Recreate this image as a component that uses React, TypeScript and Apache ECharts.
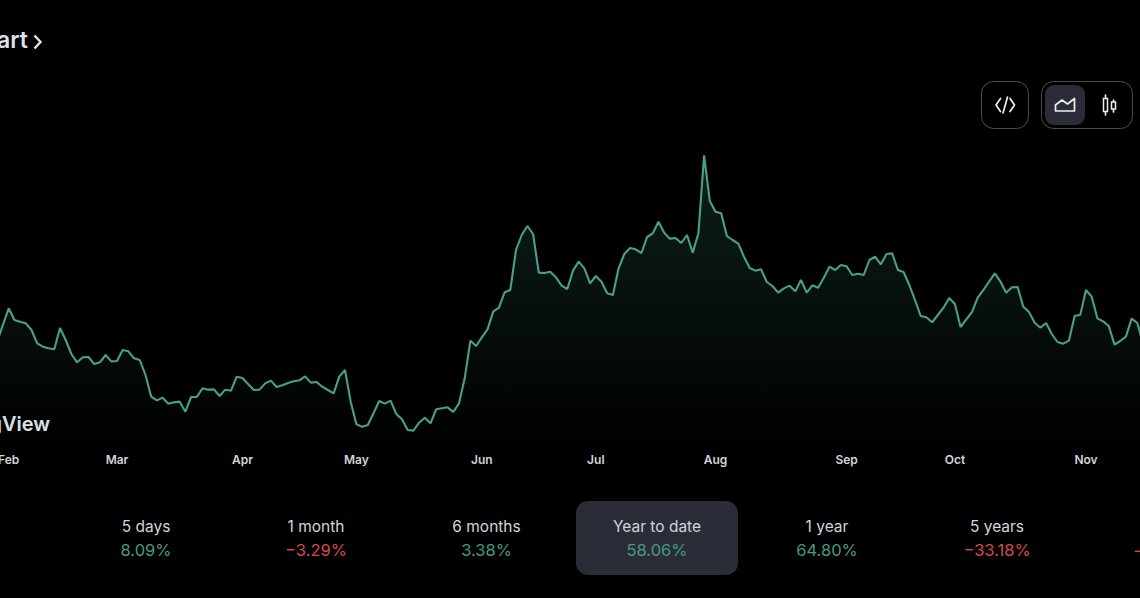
import React, { useEffect, useRef } from "react";
import * as echarts from "echarts";

const febToMay = [397,446,495,460,455,450,430,390,380,375,372,436,400,358,333,348,349,328,333,355,336,337,370,366,345,340,295,230,219,227,209,213,215,185,229,229,255,251,252,232,251,248,290,286,268,250,251,270,278,259,264,271,276,279,291,272,274,260,250,240,290,310,215,147,140,145,180,217];
const mayToAug = [209,218,178,162,130,128,152,167,150,192,195,198,184,210,285,398,382,408,432,485,497,543,550,670,715,742,718,602,601,605,588,563,553,608,635,615,570,592,575,540,535,615,658,676,672,661,709,720,755,722,704,706,691,715,662,720,954,817,785,780,712,700,689,650,616,608];
const augToNov = [612,574,562,542,555,563,546,580,542,564,557,587,620,610,625,621,595,599,595,640,650,627,658,660,610,604,565,520,472,468,453,475,497,526,508,439,462,484,527,550,575,600,575,542,558,559,500,484,452,437,451,418,394,389,398,472,476,550,530,465,456,442,386,397,410,464,451,390];
const values = [...febToMay, ...mayToAug, ...augToNov];

const monthTicks: Record<number, string> = { 2: "Feb", 21: "Mar", 43: "Apr", 63: "May", 85: "Jun", 105: "Jul", 126: "Aug", 149: "Sep", 168: "Oct", 191: "Nov" };
const categories = values.map((_, i) => monthTicks[i] ?? "");

const periodLabels = ["5 days", "1 month", "6 months", "Year to date", "1 year", "5 years"];
const periodValues = ["8.09%", "\u22123.29%", "3.38%", "58.06%", "64.80%", "\u221233.18%"];
const periodCenters = [146, 316, 486.5, 657, 827, 997];

const GREEN = "#459a84";
const RED = "#d5494f";
const FONT = "Inter, 'Noto Sans', sans-serif";

export default function App() {
  const ref = useRef<HTMLDivElement>(null);
  useEffect(() => {
    document.body.style.margin = "0";
    document.body.style.background = "#000";
    const chart = echarts.init(ref.current!, undefined, { renderer: "svg" });
    const iconLine = { stroke: "#eceef3", lineWidth: 1.7, fill: "none", lineJoin: "round" as const, lineCap: "round" as const };
    const graphic: any[] = [
      { type: "text", x: 28, y: 40, style: { text: "Full chart", align: "right", verticalAlign: "middle", fill: "#dfe1e8", font: `600 23px ${FONT}` } },
      { type: "polyline", shape: { points: [[34.5, 35.5], [40.5, 42], [34.5, 48.5]] }, style: { stroke: "#e3e5eb", lineWidth: 2.4, fill: "none" } },
      { type: "text", x: 50, y: 424, style: { text: "TradingView", align: "right", verticalAlign: "middle", fill: "#dfe1e8", font: `600 20px ${FONT}` } },

      { type: "rect", shape: { x: 981.5, y: 81.5, width: 47, height: 47, r: 12 }, style: { fill: "none", stroke: "#4a4c55", lineWidth: 1 } },
      { type: "polyline", shape: { points: [[1000.5, 98.5], [996, 105], [1000.5, 111.5]] }, style: iconLine },
      { type: "line", shape: { x1: 1007.5, y1: 97, x2: 1003, y2: 113 }, style: iconLine },
      { type: "polyline", shape: { points: [[1010, 98.5], [1014.5, 105], [1010, 111.5]] }, style: iconLine },

      { type: "rect", shape: { x: 1041.5, y: 81.5, width: 91, height: 47, r: 12 }, style: { fill: "none", stroke: "#4a4c55", lineWidth: 1 } },
      { type: "rect", shape: { x: 1045, y: 85, width: 40, height: 40, r: 9 }, style: { fill: "#2a2c37" } },
      { type: "polygon", shape: { points: [[1055.5, 111], [1055.5, 105], [1062, 100], [1067.5, 104], [1074.5, 98.5], [1074.5, 111]] }, style: iconLine },
      { type: "line", shape: { x1: 1105.5, y1: 95, x2: 1105.5, y2: 115 }, style: iconLine },
      { type: "rect", shape: { x: 1103.5, y: 98.5, width: 4, height: 13 }, style: { fill: "#000", stroke: "#eceef3", lineWidth: 1.5 } },
      { type: "line", shape: { x1: 1113.5, y1: 100, x2: 1113.5, y2: 112 }, style: iconLine },
      { type: "rect", shape: { x: 1111.5, y: 102, width: 4, height: 7 }, style: { fill: "#000", stroke: "#eceef3", lineWidth: 1.5 } },

      { type: "rect", shape: { x: 576, y: 501, width: 162, height: 74, r: 12 }, style: { fill: "#2a2c37" } },
      ...periodLabels.flatMap((label, i) => [
        { type: "text", x: periodCenters[i], y: 526, style: { text: label, align: "center", verticalAlign: "middle", fill: "#d1d4dc", font: `400 15.5px ${FONT}` } },
        { type: "text", x: periodCenters[i], y: 550, style: { text: periodValues[i], align: "center", verticalAlign: "middle", fill: periodValues[i].startsWith("\u2212") ? RED : GREEN, font: `400 16.5px ${FONT}` } },
      ]),
      { type: "text", x: 1133, y: 550, style: { text: "\u2212", align: "left", verticalAlign: "middle", fill: RED, font: `400 16.5px ${FONT}` } },
    ];
    chart.setOption({
      animation: false,
      backgroundColor: "#000",
      grid: { left: -2.7, top: 140, width: 1145.7, height: 310, containLabel: false, outerBoundsMode: "none" },
      xAxis: {
        type: "category",
        data: categories,
        boundaryGap: false,
        axisLine: { show: false },
        axisTick: { show: false },
        axisLabel: {
          interval: (_: number, v: string) => v !== "",
          color: "#d1d4dc",
          fontFamily: FONT,
          fontWeight: 600,
          fontSize: 12,
          margin: 3,
          verticalAlign: "top",
          hideOverlap: false,
        },
      },
      yAxis: { type: "value", min: 70, max: 1000, show: false, splitLine: { show: false } },
      series: [
        {
          type: "line",
          data: values,
          symbol: "none",
          smooth: false,
          lineStyle: { color: "#4a9f8a", width: 2.1 },
          areaStyle: {
            origin: "start",
            color: new echarts.graphic.LinearGradient(0, 0, 0, 1, [
              { offset: 0, color: "rgba(66,160,138,0.28)" },
              { offset: 1, color: "rgba(66,160,138,0)" },
            ]),
          },
        },
      ],
      graphic,
    });
    return () => chart.dispose();
  }, []);
  return <div ref={ref} style={{ position: "fixed", left: 0, top: 0, width: 1140, height: 598 }} />;
}
